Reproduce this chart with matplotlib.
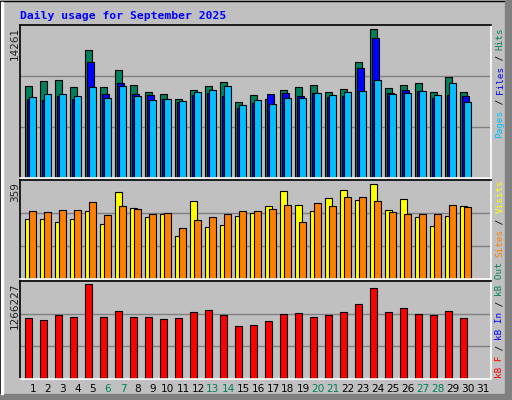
import matplotlib
matplotlib.use("Agg")
import matplotlib.pyplot as plt
from matplotlib.patches import Rectangle

days = list(range(1, 32))
hits = [8600, 9070, 9165, 8510, 11885, 8510, 10100, 8695, 8040, 7850, 7380, 8225, 8600, 8975, 7100,
        7757, 7380, 8225, 8510, 8695, 8040, 8320, 10850, 13855, 8415, 8695, 8880, 8040, 9445, 8040, 0]
files = [7380, 7290, 7660, 7380, 10850, 7850, 8880, 7850, 7757, 7380, 7100, 7757, 7945, 7660, 6540,
         7005, 7850, 7945, 7660, 7945, 7570, 7660, 10290, 13010, 7945, 8225, 8130, 7475, 7757, 7660, 0]
pages = [7570, 7850, 7850, 7660, 8510, 7475, 8600, 7660, 7290, 7380, 7195, 8040, 8225, 8600, 6820,
         7290, 6915, 7475, 7475, 7945, 7757, 8040, 8130, 9165, 7850, 7945, 8130, 7757, 8880, 7100, 0]
visits = [218, 218, 207, 218, 247, 199, 316, 258, 225, 236, 156, 283, 189, 196, 228,
          239, 265, 319, 268, 247, 294, 323, 287, 345, 250, 290, 225, 192, 228, 265, 0]
sites = [247, 243, 250, 250, 279, 232, 265, 254, 236, 239, 185, 214, 225, 236, 247,
         247, 254, 268, 207, 276, 265, 297, 297, 283, 243, 236, 236, 236, 268, 261, 0]
kbytes = [785e3, 760e3, 824e3, 798e3, 1227e3, 798e3, 876e3, 798e3, 798e3, 773e3, 785e3, 863e3, 888e3, 824e3, 682e3,
          695e3, 747e3, 837e3, 850e3, 798e3, 824e3, 863e3, 966e3, 1172e3, 863e3, 914e3, 837e3, 824e3, 876e3, 785e3, 0]
weekend = [6, 7, 13, 14, 20, 21, 27, 28]
max_hits, max_visits, max_kb = 14261, 359, 1266227

BG = "#C0C0C0"
GREEN, BLUE, CYAN = "#00805C", "#0000FF", "#00C0FF"
YEL, ORA, RED = "#FFFF00", "#FF8000", "#FF0000"
MONO = "DejaVu Sans Mono"

W, H = 512, 400
fig = plt.figure(figsize=(W / 100, H / 100), dpi=100, facecolor=BG)

def px_axes(top, bottom, left=20, right=491):
    ax = fig.add_axes([left / W, 1 - bottom / H, (right - left) / W, (bottom - top) / H])
    ax.set_facecolor(BG)
    ax.set_xlim(0.133, 31.53)
    for s in ("left", "top"):
        ax.spines[s].set_color("black")
    for s in ("right", "bottom"):
        ax.spines[s].set_color("white")
    for s in ax.spines.values():
        s.set_linewidth(1.2)
    ax.set_xticks([]); ax.set_yticks([])
    return ax

def grid(ax, ymax):
    for f in (1 / 3, 2 / 3):
        ax.axhline(ymax * f, color="#808080", lw=1, zorder=0)
    ax.set_ylim(0, ymax)

def bars(ax, vals, x0, w, color):
    xs = [d + x0 for d in days]
    ax.bar(xs, vals, width=w, align="edge", color=color, edgecolor="black", linewidth=0.8, zorder=2)

# top panel
ax1 = px_axes(25, 178)
grid(ax1, max_hits)
bars(ax1, hits, -0.513, 0.466, GREEN)
bars(ax1, files, -0.4, 0.466, BLUE)
bars(ax1, pages, -0.247, 0.466, CYAN)

# middle
ax2 = px_axes(180, 279)
grid(ax2, max_visits)
bars(ax2, visits, -0.513, 0.466, YEL)
bars(ax2, sites, -0.247, 0.466, ORA)

# bottom
ax3 = px_axes(281, 379)
grid(ax3, max_kb)
bars(ax3, kbytes, -0.513, 0.466, RED)

# title
fig.text(20 / W, 1 - 16 / H, "Daily usage for September 2025", color="#0000FF",
         family=MONO, weight="bold", fontsize=8.2, va="center", ha="left")

# left max labels
for txt, top in (("14261", 27), ("359", 182), ("1266227", 283)):
    fig.text(15 / W, 1 - top / H, txt, rotation=90, family="DejaVu Sans", fontsize=7.5,
             color="#202020", ha="center", va="top")

# day labels
for d in days:
    x = (33 + 15 * (d - 1)) / W
    fig.text(x, 1 - 389 / H, str(d), ha="center", va="center", fontsize=7.6,
             family="DejaVu Sans", color=GREEN if d in weekend else "black")

# right labels
CH = 5.5
def vlabel(parts, bottom_px):
    y = bottom_px
    for s, c in parts:
        fig.text(500 / W, 1 - y / H, s, rotation=90, family=MONO, fontsize=6.7,
                 color=c, ha="center", va="bottom")
        y -= len(s) * CH

vlabel([("Pages", CYAN), (" / ", "black"), ("Files", BLUE), (" / ", "black"), ("Hits", GREEN)], 138)
vlabel([("kB F", RED), (" / ", "black"), ("kB In", BLUE), (" / ", "black"), ("kB Out", GREEN),
        (" ", "black"), ("Sites", ORA), (" / ", "black"), ("Visits", YEL)], 378)

# bevel border
fig.patches.append(Rectangle((0, 0), W - 1, H - 1, transform=None, fill=False, edgecolor="black", lw=1))
fig.patches.append(Rectangle((W - 7, 0), 6, H, transform=None, color="#808080"))
fig.patches.append(Rectangle((0, 1), W, 5, transform=None, color="#808080"))
fig.patches.append(Rectangle((1, 6), 2, H - 8, transform=None, color="white"))

fig.savefig("out.png", dpi=100, facecolor=BG)
